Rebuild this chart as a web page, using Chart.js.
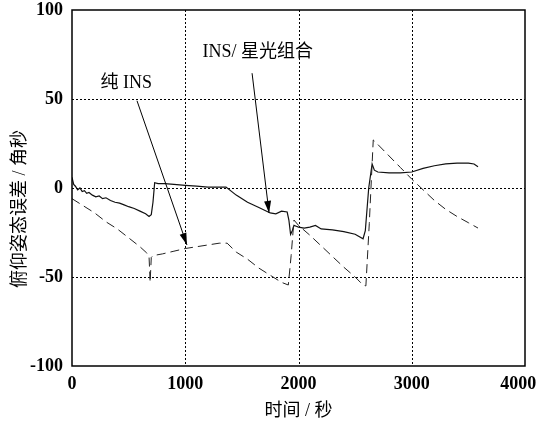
<!DOCTYPE html>
<html>
<head>
<meta charset="utf-8">
<script src="https://cdn.jsdelivr.net/npm/chart.js@4.4.0/dist/chart.umd.min.js"></script>
<style>
  html, body { margin: 0; padding: 0; background: #fff; }
  #wrap { width: 539px; height: 423px; }
</style>
</head>
<body>
<div id="wrap"><canvas id="pitchChart" width="539" height="423"></canvas></div>
<script>
// 纯 INS (dashed)
const insTime = [0, 100, 200, 300, 400, 500, 600, 660, 680, 690, 700, 715, 800, 900, 1000, 1100, 1200, 1300, 1370, 1450, 1550, 1650, 1750, 1850, 1910, 1935, 1960, 2000, 2100, 2200, 2300, 2400, 2500, 2570, 2595, 2625, 2660, 2700, 2800, 2900, 3000, 3100, 3200, 3300, 3400, 3500, 3585];
const insErr  = [-6, -10, -14, -19, -23, -28, -33, -36.5, -38, -53, -39, -38, -37, -35.5, -34, -33, -32, -31, -31, -36, -40, -45, -49, -53, -54.5, -38, -18, -21, -26.5, -32.5, -38.5, -44.5, -50, -54.5, -55, -20, 27, 24.5, 18, 11.5, 5, -1, -7, -12, -16, -19.5, -22.5];

// INS/ 星光组合 (solid)
const combTime = [0, 15, 30, 50, 70, 90, 110, 130, 150, 180, 210, 240, 270, 300, 340, 380, 420, 460, 500, 550, 600, 650, 680, 700, 715, 730, 760, 820, 900, 1000, 1100, 1200, 1300, 1360, 1450, 1550, 1650, 1750, 1800, 1850, 1900, 1915, 1930, 1945, 1960, 1980, 2000, 2050, 2100, 2150, 2200, 2300, 2400, 2500, 2570, 2590, 2620, 2650, 2670, 2700, 2800, 2900, 3000, 3100, 3200, 3300, 3400, 3500, 3550, 3585];
const combErr  = [6, 2, 1, -1, 0, -2, -1.5, -3, -2.5, -4, -5, -4.5, -6, -5.5, -7, -8, -8.5, -9.5, -10.5, -11.5, -13, -14.5, -16, -15, -8, 3, 2.5, 2.5, 2, 1.5, 1, 0.5, 0.5, 0.5, -4, -8, -11, -14, -14.5, -13, -13.5, -18, -26, -24, -21, -21.5, -22, -22.5, -22, -21, -23, -23.5, -24.5, -26, -28.5, -24, 0, 13.5, 10, 9, 8.5, 8.5, 9, 11, 12.5, 13.5, 14, 14, 13.5, 12];

const xTicks = [0, 1000, 2000, 3000, 4000];
const yTicks = [-100, -50, 0, 50, 100];

const yTitle = '俯仰姿态误差 / 角秒';
const xTitle = '时间 / 秒';

// annotation anchors in data units: text centre, arrow start, arrow tip
const notes = [
    { text: '纯 INS', tx: 480, ty: 59, x0: 574, y0: 49, x1: 1015, y1: -32 },
    { text: 'INS/ 星光组合', tx: 1640, ty: 76, x0: 1590, y0: 64.5, x1: 1740, y1: -14 }
];

const serif = '"Liberation Serif", "Noto Sans CJK SC", serif';

function toPoints(xs, ys) {
    return xs.map((x, i) => ({ x: x, y: ys[i] }));
}

// dotted grid, frame, y title and the two arrows
const overlay = {
    id: 'overlay',
    beforeDatasetsDraw(chart) {
        const c = chart.ctx;
        const a = chart.chartArea;
        const xs = chart.scales.x;
        const ys = chart.scales.y;
        c.save();
        c.strokeStyle = '#000';
        c.lineWidth = 1;
        c.setLineDash([2, 2]);
        xs.ticks.forEach(t => {
            if (t.value === xs.min || t.value === xs.max) return;
            const px = Math.round(xs.getPixelForValue(t.value)) + 0.5;
            c.beginPath(); c.moveTo(px, a.top); c.lineTo(px, a.bottom); c.stroke();
        });
        ys.ticks.forEach(t => {
            if (t.value === ys.min || t.value === ys.max) return;
            const py = Math.round(ys.getPixelForValue(t.value)) + 0.5;
            c.beginPath(); c.moveTo(a.left, py); c.lineTo(a.right, py); c.stroke();
        });
        c.restore();
    },
    afterDraw(chart) {
        const c = chart.ctx;
        const a = chart.chartArea;
        const xs = chart.scales.x;
        const ys = chart.scales.y;
        c.save();
        c.strokeStyle = '#000';
        c.lineWidth = 1.5;
        c.setLineDash([]);
        c.strokeRect(a.left, a.top, a.right - a.left, a.bottom - a.top);

        c.fillStyle = '#000';
        c.textAlign = 'center';
        c.textBaseline = 'middle';

        c.save();
        c.translate(20, 209);
        c.rotate(-Math.PI / 2);
        c.font = '18px ' + serif;
        c.fillText(yTitle, 0, 0);
        c.restore();

        c.font = '18px ' + serif;
        notes.forEach(n => {
            c.fillText(n.text, xs.getPixelForValue(n.tx), ys.getPixelForValue(n.ty));
            const px0 = xs.getPixelForValue(n.x0), py0 = ys.getPixelForValue(n.y0);
            const px1 = xs.getPixelForValue(n.x1), py1 = ys.getPixelForValue(n.y1);
            const ang = Math.atan2(py1 - py0, px1 - px0);
            c.lineWidth = 1;
            c.beginPath();
            c.moveTo(px0, py0);
            c.lineTo(px1, py1);
            c.stroke();
            c.beginPath();
            c.moveTo(px1, py1);
            c.lineTo(px1 - 12 * Math.cos(ang) + 3.5 * Math.sin(ang), py1 - 12 * Math.sin(ang) - 3.5 * Math.cos(ang));
            c.lineTo(px1 - 12 * Math.cos(ang) - 3.5 * Math.sin(ang), py1 - 12 * Math.sin(ang) + 3.5 * Math.cos(ang));
            c.closePath();
            c.fill();
        });
        c.restore();
    }
};

const ctx = document.getElementById('pitchChart').getContext('2d');

const pitchChart = new Chart(ctx, {
    type: 'scatter',
    data: {
        datasets: [{
            label: '纯 INS',
            data: toPoints(insTime, insErr),
            showLine: true,
            borderColor: '#222',
            borderWidth: 1,
            borderDash: [9, 5],
            pointRadius: 0,
            tension: 0
        }, {
            label: 'INS/ 星光组合',
            data: toPoints(combTime, combErr),
            showLine: true,
            borderColor: '#111',
            borderWidth: 1.2,
            pointRadius: 0,
            tension: 0
        }]
    },
    options: {
        responsive: false,
        animation: false,
        layout: { padding: { top: 10, right: 14, left: 0, bottom: 0 } },
        plugins: {
            legend: { display: false },
            tooltip: { enabled: false }
        },
        scales: {
            x: {
                type: 'linear',
                min: 0,
                max: 4000,
                afterBuildTicks: s => { s.ticks = xTicks.map(v => ({ value: v })); },
                afterFit: s => { s.height = 57; s.paddingLeft = 0; s.paddingRight = 0; },
                ticks: {
                    color: '#000',
                    padding: 8,
                    maxRotation: 0,
                    font: { family: serif, size: 18, weight: 'bold' },
                    // the last label sits a little left of its tick in the original
                    callback: v => v === 4000 ? String(v) + '\u00a0\u00a0\u00a0' : String(v)
                },
                grid: { display: false, drawTicks: false, tickLength: 0 },
                border: { display: false },
                title: {
                    display: true,
                    text: xTitle,
                    color: '#000',
                    font: { family: serif, size: 18 },
                    padding: { top: 0, bottom: 1 }
                }
            },
            y: {
                type: 'linear',
                min: -100,
                max: 100,
                afterBuildTicks: s => { s.ticks = yTicks.map(v => ({ value: v })); },
                afterFit: s => { s.width = 72; s.paddingTop = 0; s.paddingBottom = 0; },
                ticks: {
                    color: '#000',
                    padding: 9,
                    font: { family: serif, size: 18, weight: 'bold' },
                    callback: v => String(v)
                },
                grid: { display: false, drawTicks: false, tickLength: 0 },
                border: { display: false }
            }
        }
    },
    plugins: [overlay]
});
</script>
</body>
</html>
